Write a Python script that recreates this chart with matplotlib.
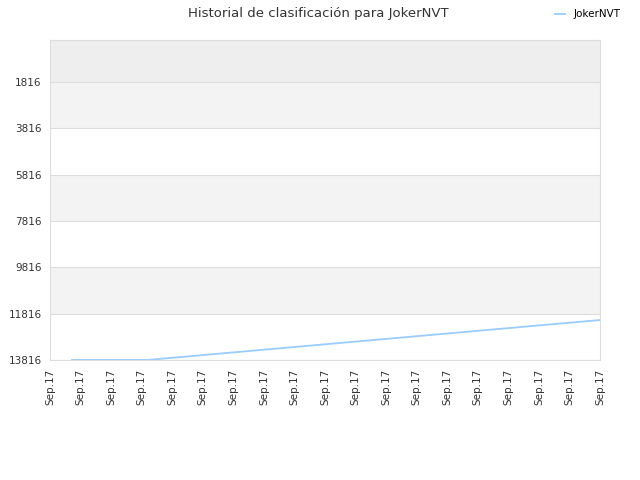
import matplotlib
matplotlib.use("Agg")
import matplotlib.pyplot as plt

# rank history (lower number = better)
x_pos = [0.72, 3.18, 18.0]
ranks = [13816, 13816, 12090]
tick_labels = ["Sep.17"] * 19
y_ticks = [1816, 3816, 5816, 7816, 9816, 11816, 13816]
player = "JokerNVT"

fig = plt.figure(figsize=(6.4, 4.8), dpi=100)
ax = fig.add_axes([50 / 640, 1 - 360 / 480, 550 / 640, 320 / 480])

# alternating bands
ax.axhspan(0, 1816, color="#eeeeee", zorder=0, lw=0)
for i in range(len(y_ticks) - 1):
    if i % 2 == 0:
        ax.axhspan(y_ticks[i], y_ticks[i + 1], color="#f3f3f3", zorder=0, lw=0)

ax.plot(x_pos, ranks, color="#99ccff", lw=1.3, label=player, zorder=3)

ax.set_xlim(0, 18)
ax.set_ylim(13816, 0)
ax.set_yticks(y_ticks)
ax.set_yticklabels([str(v) for v in y_ticks])
ax.set_xticks(range(len(tick_labels)))
ax.set_xticklabels(tick_labels, rotation=90)
ax.grid(axis="y", color="#dddddd", lw=0.8, zorder=1)
ax.set_axisbelow(True)
ax.tick_params(length=0, labelsize=7.5, colors="#333333", pad=6)
for s in ax.spines.values():
    s.set_color("#dddddd")

fig.text(0.497, 1 - 13 / 480, "Historial de clasificación para " + player,
         ha="center", va="center", fontsize=9.5, color="#333333")
fig.legend(loc="upper right", bbox_to_anchor=(0.985, 1.0), frameon=False,
           fontsize=7.5, handlelength=0.9, handletextpad=0.9)

fig.savefig("out.png", dpi=100)
